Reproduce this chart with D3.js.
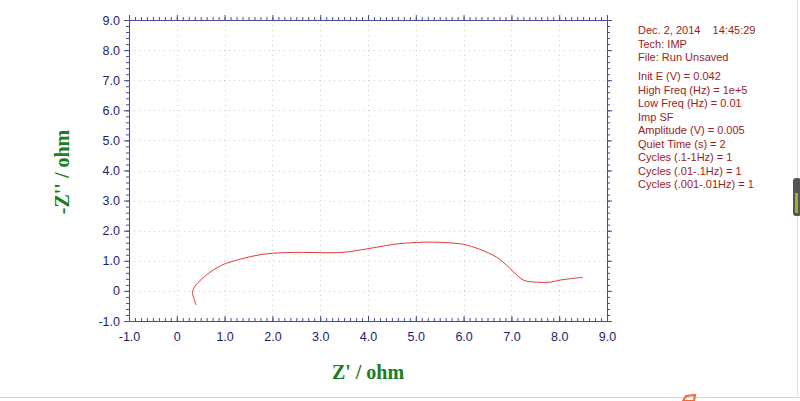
<!DOCTYPE html>
<html>
<head>
<meta charset="utf-8">
<script src="https://cdn.jsdelivr.net/npm/d3@7"></script>
<style>
  body { margin: 0; background: #fff; }
  svg { display: block; }
</style>
</head>
<body>
<svg id="frame" width="800" height="401"></svg>
<script>
// Nyquist data: Z' (ohm) and -Z'' (ohm)
var zReal = [0.40, 0.37, 0.33, 0.345, 0.40, 0.485, 0.62, 0.76, 0.90, 1.04, 1.39, 1.81, 2.23, 2.65, 3.06, 3.48, 3.76, 4.18, 4.60, 5.02, 5.35, 5.65, 5.99, 6.34, 6.69, 6.97, 7.25, 7.53, 7.81, 8.02, 8.25, 8.50];
var zImag = [-0.47, -0.30, -0.08, 0.05, 0.20, 0.34, 0.53, 0.69, 0.82, 0.92, 1.08, 1.22, 1.27, 1.28, 1.27, 1.28, 1.34, 1.45, 1.56, 1.61, 1.62, 1.60, 1.55, 1.38, 1.12, 0.75, 0.36, 0.29, 0.29, 0.36, 0.41, 0.45];

var xTicks = [-1, 0, 1, 2, 3, 4, 5, 6, 7, 8, 9];
var yTicks = [-1, 0, 1, 2, 3, 4, 5, 6, 7, 8, 9];

var infoLines = [
  "Dec. 2, 2014    14:45:29",
  "Tech: IMP",
  "File: Run Unsaved",
  "",
  "Init E (V) = 0.042",
  "High Freq (Hz) = 1e+5",
  "Low Freq (Hz) = 0.01",
  "Imp SF",
  "Amplitude (V) = 0.005",
  "Quiet Time (s) = 2",
  "Cycles (.1-1Hz) = 1",
  "Cycles (.01-.1Hz) = 1",
  "Cycles (.001-.01Hz) = 1"
];

var axisCol = "#4b4b9c";
var labelCol = "#1d1d6e";
var titleCol = "#1b7d1b";
var infoCol = "#9b1c1c";

var plot = { left: 129, right: 607, top: 20, bottom: 321 };

var svg = d3.select("#frame");

var x = d3.scaleLinear().domain([-1, 9]).range([plot.left, plot.right]);
var y = d3.scaleLinear().domain([-1, 9]).range([plot.bottom, plot.top]);

// dotted grid at the major ticks
var grid = svg.append("g")
    .attr("stroke", "#cfcfc4")
    .attr("stroke-width", 1)
    .attr("stroke-dasharray", "1,4");
grid.selectAll(".gx")
    .data(xTicks.slice(1, -1))
    .enter().append("line")
    .attr("x1", d => Math.round(x(d)) + 0.5).attr("x2", d => Math.round(x(d)) + 0.5)
    .attr("y1", plot.top).attr("y2", plot.bottom);
grid.selectAll(".gy")
    .data(yTicks.slice(1, -1))
    .enter().append("line")
    .attr("y1", d => Math.round(y(d)) + 0.5).attr("y2", d => Math.round(y(d)) + 0.5)
    .attr("x1", plot.left).attr("x2", plot.right);

// four axes, minor ticks drawn as separate axes without labels
var xMinor = d3.range(-1, 9.0001, 0.125);
var yMinor = d3.range(-1, 9.0001, 0.2);

function styleAxis(g) {
    g.selectAll("path").attr("stroke", axisCol);
    g.selectAll("line").attr("stroke", axisCol);
    g.selectAll("text")
        .attr("fill", labelCol)
        .style("font-family", "'Liberation Sans', Arial, sans-serif")
        .style("font-size", "12.5px");
}

// plain hyphen for negatives, like the original software
function fmt(d) { return d === 0 ? "0" : d.toFixed(1); }

// bottom: ticks point up into the plot
svg.append("g")
    .attr("transform", "translate(0," + plot.bottom + ")")
    .call(d3.axisBottom(x).tickValues(xMinor).tickSize(-3).tickFormat(""))
    .call(styleAxis);
svg.append("g")
    .attr("transform", "translate(0," + plot.bottom + ")")
    .call(d3.axisBottom(x).tickValues(xTicks).tickSize(-5).tickPadding(11).tickFormat(fmt))
    .call(styleAxis)
    .call(g => g.select(".domain").remove());

// top: ticks point up
svg.append("g")
    .attr("transform", "translate(0," + plot.top + ")")
    .call(d3.axisTop(x).tickValues(xMinor).tickSize(3).tickFormat(""))
    .call(styleAxis);
svg.append("g")
    .attr("transform", "translate(0," + plot.top + ")")
    .call(d3.axisTop(x).tickValues(xTicks).tickSize(5).tickFormat(""))
    .call(styleAxis)
    .call(g => g.select(".domain").remove());

// left
svg.append("g")
    .attr("transform", "translate(" + plot.left + ",0)")
    .call(d3.axisLeft(y).tickValues(yMinor).tickSize(3).tickFormat(""))
    .call(styleAxis);
svg.append("g")
    .attr("transform", "translate(" + plot.left + ",0)")
    .call(d3.axisLeft(y).tickValues(yTicks).tickSize(5).tickPadding(4).tickFormat(fmt))
    .call(styleAxis)
    .call(g => g.select(".domain").remove());

// right
svg.append("g")
    .attr("transform", "translate(" + plot.right + ",0)")
    .call(d3.axisRight(y).tickValues(yMinor).tickSize(3).tickFormat(""))
    .call(styleAxis);
svg.append("g")
    .attr("transform", "translate(" + plot.right + ",0)")
    .call(d3.axisRight(y).tickValues(yTicks).tickSize(5).tickFormat(""))
    .call(styleAxis)
    .call(g => g.select(".domain").remove());

// the impedance curve
var pts = zReal.map((d, i) => [d, zImag[i]]);
var line = d3.line()
    .x(d => x(d[0]))
    .y(d => y(d[1]))
    .curve(d3.curveCatmullRom);
svg.append("path")
    .datum(pts)
    .attr("d", line)
    .attr("fill", "none")
    .attr("stroke", "#e23b3b")
    .attr("stroke-width", 1);

// axis titles
svg.append("text")
    .attr("x", 368).attr("y", 379)
    .attr("text-anchor", "middle")
    .attr("fill", titleCol)
    .style("font-family", "'Liberation Serif', 'Times New Roman', serif")
    .style("font-weight", "bold")
    .style("font-size", "20px")
    .text("Z' / ohm");

svg.append("text")
    .attr("transform", "translate(69,172) rotate(-90)")
    .attr("text-anchor", "middle")
    .attr("fill", titleCol)
    .style("font-family", "'Liberation Serif', 'Times New Roman', serif")
    .style("font-weight", "bold")
    .style("font-size", "20px")
    .text("-Z'' / ohm");

// run info block
var info = svg.append("g")
    .attr("fill", infoCol)
    .style("font-family", "'Liberation Sans', Arial, sans-serif")
    .style("font-size", "11px");
info.selectAll("text")
    .data(infoLines)
    .enter().append("text")
    .attr("x", 638)
    .attr("y", (d, i) => 34 + i * 13.5 + (i > 3 ? -8 : 0))
    .attr("xml:space", "preserve")
    .style("white-space", "pre")
    .text(d => d);

// window edges from the screenshot
svg.append("line")
    .attr("x1", 0).attr("x2", 800).attr("y1", 397.5).attr("y2", 397.5)
    .attr("stroke", "#d4d4d4");
svg.append("line")
    .attr("x1", 797.5).attr("x2", 797.5).attr("y1", 0).attr("y2", 398)
    .attr("stroke", "#e4e4e4");
svg.append("rect")
    .attr("x", 793).attr("y", 178).attr("width", 8).attr("height", 38).attr("rx", 3)
    .attr("fill", "#555");
svg.append("rect")
    .attr("x", 795).attr("y", 193).attr("width", 3).attr("height", 20)
    .attr("fill", "#9ab32e");
svg.append("path")
    .attr("d", "M683,401 L686,396 L695,395 L694,401 Z")
    .attr("fill", "none")
    .attr("stroke", "#ee6a3a")
    .attr("stroke-width", 2);
</script>
</body>
</html>
